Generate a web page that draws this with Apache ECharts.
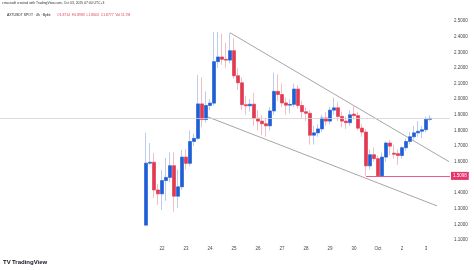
<!DOCTYPE html>
<html>
<head>
<meta charset="utf-8">
<script src="https://cdn.jsdelivr.net/npm/echarts@6/dist/echarts.min.js"></script>
<style>html,body{margin:0;padding:0;background:#fff}#c{width:474px;height:270px}</style>
</head>
<body>
<div id="c"></div>
<script>
// 4h candles; index 0 = Sep 22 00:00 (first candle at index -4)
const firstIndex = -4;
const opens  = [1.195,1.591,1.597,1.42,1.395,1.48,1.50,1.575,1.38,1.44,1.63,1.59,1.73,1.75,1.97,1.87,1.96,1.975,2.24,2.27,2.255,2.25,2.31,2.15,2.105,1.965,1.958,1.968,1.878,1.86,1.843,1.83,1.925,2.05,2.03,1.976,1.962,1.967,2.065,1.96,1.92,1.91,1.77,1.785,1.81,1.88,1.86,1.93,1.945,1.89,1.86,1.85,1.905,1.895,1.815,1.79,1.574,1.645,1.62,1.51,1.63,1.72,1.655,1.652,1.64,1.69,1.73,1.76,1.785,1.795,1.805,1.8714];
const closes = [1.591,1.597,1.42,1.395,1.48,1.50,1.575,1.38,1.44,1.63,1.59,1.73,1.75,1.97,1.87,1.96,1.975,2.24,2.27,2.255,2.25,2.31,2.15,2.105,1.965,1.958,1.968,1.878,1.86,1.843,1.83,1.925,2.05,2.03,1.976,1.962,1.967,2.065,1.96,1.92,1.91,1.77,1.785,1.81,1.88,1.86,1.93,1.945,1.89,1.86,1.85,1.90,1.895,1.815,1.79,1.574,1.645,1.62,1.51,1.63,1.72,1.70,1.648,1.64,1.69,1.73,1.76,1.785,1.795,1.805,1.8714,1.8777];
const highs  = [1.786,1.72,1.656,1.46,1.548,1.625,1.66,1.66,1.55,1.675,1.68,1.80,1.78,2.155,2.14,2.05,2.00,2.43,2.43,2.42,2.36,2.425,2.39,2.20,2.14,2.02,2.00,2.04,1.93,1.90,1.88,1.95,2.17,2.16,2.10,2.01,2.00,2.10,2.09,1.99,1.95,1.93,1.83,1.84,1.90,1.92,1.95,2.01,1.98,1.92,1.89,1.93,1.96,1.92,1.84,1.81,1.68,1.69,1.64,1.66,1.73,1.74,1.71,1.68,1.70,1.75,1.79,1.83,1.86,1.83,1.89,1.8983];
const lows   = [1.19,1.58,1.37,1.325,1.29,1.35,1.47,1.28,1.305,1.42,1.55,1.57,1.70,1.74,1.82,1.85,1.93,1.96,2.20,2.22,2.20,2.23,2.13,2.06,1.93,1.90,1.92,1.83,1.80,1.77,1.76,1.80,1.90,1.99,1.95,1.90,1.91,1.95,1.94,1.88,1.86,1.71,1.71,1.76,1.79,1.83,1.84,1.90,1.86,1.82,1.81,1.83,1.87,1.80,1.76,1.51,1.55,1.60,1.5098,1.5098,1.60,1.64,1.62,1.58,1.62,1.67,1.71,1.74,1.76,1.75,1.79,1.8603];

const dayTickIndex = [0,6,12,18,24,30,36,42,48,54,60,66];
const dayTickLabels = ['22','23','24','25','26','27','28','29','30','Oct','2','3'];

// drawings: [candle index, price]
const upperTrend = [[17,2.425],[71.75,1.601]];
const lowerTrend = [[11.3,1.8885],[68.75,1.318]];
const supportRay = [[51,1.5098],[72,1.5098]];
const lastClose = 1.8777;

const titleLine1 = 'cmacrodt created with TradingView.com, Oct 03, 2025 07:00 UTC+3';
const titleLine2a = 'AXTUSDT SPOT · 4h · Bybit';
const titleLine2b = 'O1.8714  H1.8983  L1.8603  C1.8777  Vol 11.7M';

const full = [], bodies = [];
for (let i = 0; i < opens.length; i++) {
  const x = firstIndex + i;
  full.push([x, opens[i], closes[i], lows[i], highs[i]]);
  bodies.push([x, opens[i], closes[i], Math.min(opens[i], closes[i]), Math.max(opens[i], closes[i])]);
}

const UP = '#1f5ed6', DOWN = '#e23a50', RAY = '#e8336b', PRICE = '#d2d2d2';
const chart = echarts.init(document.getElementById('c'), null, {renderer: 'canvas'});
const FONT = 'Liberation Sans';
chart.setOption({
  animation: false,
  backgroundColor: '#ffffff',
  grid: {left: 0, right: 24, top: 21, bottom: 30},
  xAxis: {
    type: 'value', min: -40.5, max: 72,
    axisLine: {show: false}, axisTick: {show: false}, splitLine: {show: false},
    axisLabel: {
      customValues: dayTickIndex, margin: 6, color: '#444', fontSize: 4.5, fontFamily: FONT,
      formatter: v => { const k = dayTickIndex.indexOf(v); return k >= 0 ? dayTickLabels[k] : ''; }
    }
  },
  yAxis: {
    type: 'value', position: 'right', min: 1.1, max: 2.5, interval: 0.1,
    axisLine: {show: false}, axisTick: {show: false}, splitLine: {show: false},
    axisLabel: {margin: 4, color: '#444', fontSize: 4.5, fontFamily: FONT,
      formatter: v => v.toFixed(4)}
  },
  series: [
    {
      type: 'line', data: upperTrend, symbol: 'none', silent: true, z: 1,
      lineStyle: {color: '#8f8f8f', width: 0.8}
    },
    {
      type: 'line', data: lowerTrend, symbol: 'none', silent: true, z: 1,
      lineStyle: {color: '#8f8f8f', width: 0.8}
    },
    {
      type: 'candlestick', data: full, encode: {x: 0, y: [1, 2, 3, 4]}, barWidth: 3, z: 2,
      itemStyle: {color: '#bccbef', color0: '#f4bcc5', borderColor: '#bccbef', borderColor0: '#f4bcc5', borderWidth: 1},
      markLine: {
        silent: true, symbol: 'none',
        emphasis: {disabled: true},
        data: [
          [
            {coord: supportRay[0], lineStyle: {color: RAY, width: 0.8, type: 'solid'}},
            {coord: supportRay[1], lineStyle: {color: RAY, width: 0.8, type: 'solid'},
              label: {show: true, position: 'end', formatter: '1.5098', color: '#fff', fontSize: 4.5, fontFamily: FONT,
                backgroundColor: RAY, padding: [1.5, 2], distance: 1}}
          ],
          {yAxis: lastClose, label: {show: false}, lineStyle: {color: PRICE, width: 0.8, type: 'solid'}}
        ]
      }
    },
    {
      type: 'candlestick', data: bodies, encode: {x: 0, y: [1, 2, 3, 4]}, barWidth: 3, z: 3,
      itemStyle: {color: UP, color0: DOWN, borderColor: UP, borderColor0: DOWN, borderWidth: 0.5}
    }
  ],
  graphic: [
    {type: 'text', left: 2, top: 2, style: {text: titleLine1, fontSize: 3.4, fontFamily: FONT, fill: '#333'}},
    {type: 'text', left: 7, top: 9, style: {
      text: '{a|' + titleLine2a + '}  {b|' + titleLine2b + '}',
      rich: {a: {fontSize: 3.4, fontFamily: FONT, fill: '#222', color: '#222'},
             b: {fontSize: 3.4, fontFamily: FONT, fill: '#e0405a', color: '#e0405a'}}}},
    {type: 'text', left: 3, top: 259, style: {text: 'TV', fontSize: 6, fontWeight: 'bold', fontFamily: FONT, fill: '#131722'}},
    {type: 'text', left: 12, top: 259, style: {text: 'TradingView', fontSize: 6, fontWeight: 'bold', fontFamily: FONT, fill: '#131722'}}
  ]
});
</script>
</body>
</html>
